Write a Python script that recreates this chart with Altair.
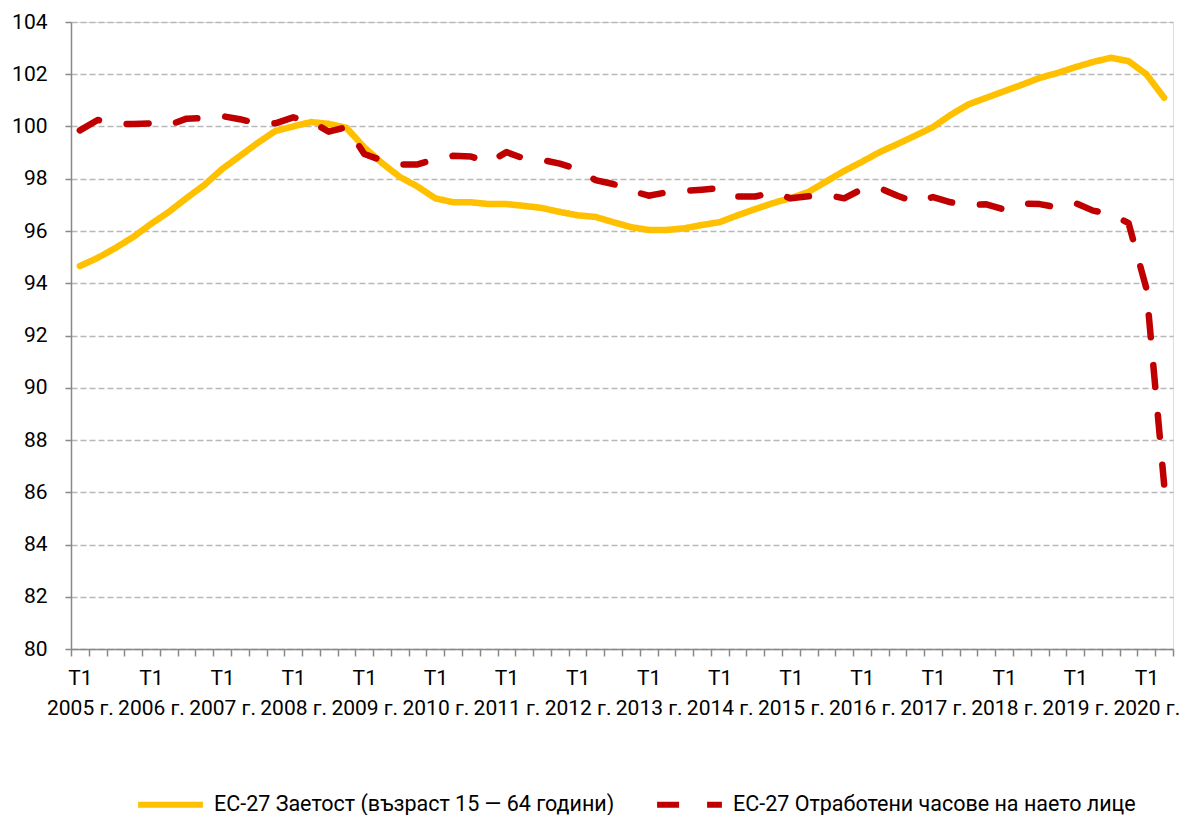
import altair as alt
import pandas as pd

years = list(range(2005, 2021))
quarters = [f"{y}-{q}" for y in years for q in (1, 2, 3, 4)][:62]

employment = [
    94.66, 94.97, 95.35, 95.77, 96.27, 96.73, 97.26, 97.76,
    98.37, 98.87, 99.37, 99.83, 100.0, 100.17, 100.1, 99.95,
    99.2, 98.6, 98.07, 97.7, 97.25, 97.1, 97.1, 97.03,
    97.03, 96.96, 96.88, 96.73, 96.6, 96.54, 96.34, 96.15,
    96.04, 96.04, 96.1, 96.23, 96.34, 96.6, 96.84, 97.07,
    97.26, 97.5, 97.9, 98.3, 98.65, 99.02, 99.33, 99.65,
    99.98, 100.45, 100.85, 101.1, 101.35, 101.6, 101.86, 102.05,
    102.27, 102.47, 102.63, 102.5, 102.0, 101.1,
]
hours = [
    99.85, 100.25, 100.1, 100.1, 100.12, 100.05, 100.3, 100.32,
    100.4, 100.28, 100.12, 100.12, 100.35, 100.2, 99.8, 99.98,
    98.95, 98.7, 98.55, 98.55, 98.75, 98.88, 98.85, 98.62,
    99.02, 98.77, 98.72, 98.58, 98.37, 97.95, 97.8, 97.55,
    97.35, 97.48, 97.53, 97.58, 97.64, 97.32, 97.32, 97.47,
    97.25, 97.33, 97.38, 97.25, 97.6, 97.64, 97.35, 97.1,
    97.3, 97.1, 97.0, 97.02, 96.82, 97.05, 97.03, 96.9,
    97.07, 96.78, 96.65, 96.3, 93.8, 86.3,
]

s1 = "ЕС-27 Заетост (възраст 15 — 64 години)"
s2 = "ЕС-27 Отработени часове на наето лице"

df = pd.concat([
    pd.DataFrame({"q": quarters, "v": employment, "s": s1}),
    pd.DataFrame({"q": quarters, "v": hours, "s": s2}),
])

FONT = "Roboto"

legend = alt.Legend(
    orient="none", legendX=64, legendY=747, direction="horizontal",
    columns=2, columnPadding=30, symbolType="stroke", symbolStrokeWidth=6,
    symbolSize=4200, labelFont=FONT, labelFontSize=21.5, labelColor="#000000",
    labelLimit=600, labelOffset=8, padding=0,
)

chart = alt.Chart(df).mark_line(strokeWidth=6.5, strokeCap="round", strokeJoin="round").encode(
    x=alt.X(
        "q:O", sort=quarters, title=None,
        scale=alt.Scale(type="band", paddingInner=0, paddingOuter=0),
        axis=alt.Axis(
            tickBand="extent",
            labelExpr="substring(datum.value,5)=='1' ? ['T1', substring(datum.value,0,4) + ' г.'] : ''",
            labelAngle=0, labelOverlap=False, labelFont=FONT, labelFontSize=21,
            labelColor="#000000", labelLineHeight=30, labelPadding=11,
            labelBaseline="top",
            domainColor="#888888", domainWidth=1.5, tickColor="#888888", tickWidth=1.5,
            tickSize=7, grid=False,
        ),
    ),
    y=alt.Y(
        "v:Q", title=None,
        scale=alt.Scale(domain=[80, 104], nice=False, zero=False),
        axis=alt.Axis(
            values=list(range(80, 105, 2)), labelFont=FONT, labelFontSize=21,
            labelColor="#000000", labelPadding=18, tickSize=6,
            domainColor="#888888", domainWidth=1.5, tickColor="#888888", tickWidth=1.5,
            grid=True, gridColor="#b8b8b8", gridDash=[6, 3], gridWidth=1.3,
        ),
    ),
    color=alt.Color(
        "s:N", sort=[s1, s2], title=None,
        scale=alt.Scale(domain=[s1, s2], range=["#FFC000", "#C00000"]),
        legend=legend,
    ),
    strokeDash=alt.StrokeDash(
        "s:N", sort=[s1, s2], title=None,
        scale=alt.Scale(domain=[s1, s2], range=[[1, 0], [22, 28]]),
        legend=legend,
    ),
).properties(
    width=1102, height=627,
    autosize=alt.AutoSizeParams(type="none"),
    padding={"left": 63, "top": 14, "right": 6, "bottom": 166},
).configure_view(stroke=None).configure(background="#ffffff")

chart.save("out.html", embed_options={"renderer": "svg", "actions": False})
